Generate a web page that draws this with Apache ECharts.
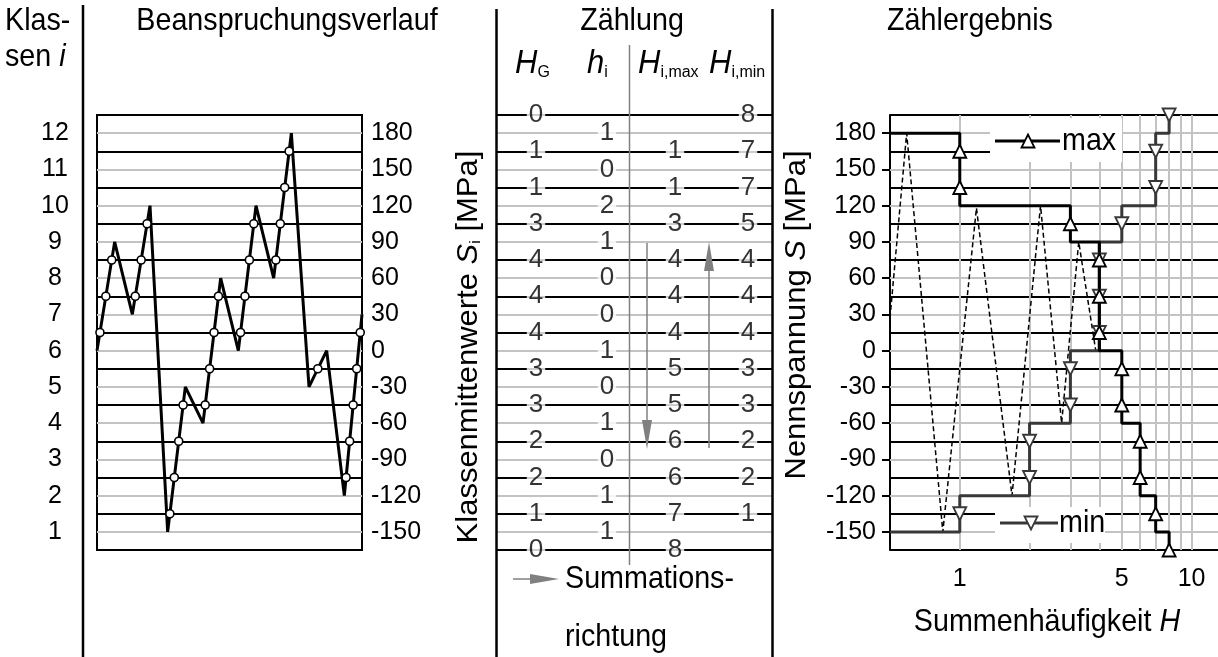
<!DOCTYPE html>
<html><head><meta charset="utf-8">
<script src="https://cdn.jsdelivr.net/npm/echarts@6/dist/echarts.min.js"></script>
<style>html,body{margin:0;padding:0;background:#fff}#c{width:1218px;height:657px}</style>
</head><body><div id="c"></div>
<script>
// ---------------- data ----------------
const classes = [1, 2, 3, 4, 5, 6, 7, 8, 9, 10, 11, 12];
const classMid = [-150, -120, -90, -60, -30, 0, 30, 60, 90, 120, 150, 180];
const boundaries = [-165, -135, -105, -75, -45, -15, 15, 45, 75, 105, 135, 165, 195];
// load history turning points (Beanspruchungsverlauf)
const loadSeq = [0, 90, 30, 120, -150, -30, -60, 60, 0, 120, 60, 180, -30, 0, -120, 30];
// table (top to bottom)
const tblBoundaries = [195, 165, 135, 105, 75, 45, 15, -15, -45, -75, -105, -135, -165];
const tblClassMid = [180, 150, 120, 90, 60, 30, 0, -30, -60, -90, -120, -150];
const H_G = [0, 1, 1, 3, 4, 4, 4, 3, 3, 2, 2, 1, 0];
const h_i = [1, 0, 2, 1, 0, 0, 1, 0, 1, 0, 1, 1];
const H_max = [null, 1, 1, 3, 4, 4, 4, 5, 5, 6, 6, 7, 8];
const H_min = [8, 7, 7, 5, 4, 4, 4, 3, 3, 2, 2, 1, null];
// reconstructed sequence (dashed) in Zählergebnis
const dashH = [0.5, 0.59, 0.845, 1.18, 1.68, 2.23, 2.75, 3.26, 3.86];
const dashS = [27, 180, -150, 118, -120, 120, -60, 90, 0];
const xTicksH = [1, 2, 3, 4, 5, 6, 7, 8, 9, 10];
const xLabelsH = [1, 5, 10];

// ---------------- layout / style ----------------
const FONT = '"Liberation Sans", Arial, sans-serif';
const BLACK = '#000', GRAY = '#c3c3c3', MINC = '#383838', MIDG = '#808080';
const Y_MIN = -165, Y_MAX = 195;
const FS = 28.7, SY = 1.08, TICKFS = 25;
const colX = { HG: 39, hi: 110, Hmax: 178, Hmin: 251 }; // within middle panel (0..275)

// derived: upward class-boundary crossings of load history
const crossPts = [];
for (let i = 0; i < loadSeq.length - 1; i++) {
  const a = loadSeq[i], b = loadSeq[i + 1];
  if (b > a) boundaries.forEach(lv => { if (lv > a && lv < b) crossPts.push([i + (lv - a) / (b - a), lv]); });
}
// derived: step curves for counting result
function stepPts(Hs, bnds, mids, leftH) {
  const pts = [];
  if (Hs[0] != null) pts.push([Hs[0], bnds[0]]);
  for (let k = 0; k < mids.length; k++) {
    const hu = Hs[k] == null ? leftH : Hs[k];
    const hl = Hs[k + 1] == null ? leftH : Hs[k + 1];
    pts.push([hu, mids[k]], [hl, mids[k]]);
  }
  const n = Hs.length - 1;
  if (Hs[n] != null) pts.push([Hs[n], bnds[n]]);
  return pts;
}
const X2_MIN = 0.5;
const maxLine = stepPts(H_max, tblBoundaries, tblClassMid, X2_MIN);
const minLine = stepPts(H_min, tblBoundaries, tblClassMid, X2_MIN);
const maxMarks = []; H_max.forEach((h, k) => { if (h != null) maxMarks.push([h, tblBoundaries[k]]); });
const minMarks = []; H_min.forEach((h, k) => { if (h != null) minMarks.push([h, tblBoundaries[k]]); });

const tableCells = [];
tblBoundaries.forEach((b, k) => {
  tableCells.push([colX.HG, b, H_G[k]]);
  if (H_max[k] != null) tableCells.push([colX.Hmax, b, H_max[k]]);
  if (H_min[k] != null) tableCells.push([colX.Hmin, b, H_min[k]]);
});
tblClassMid.forEach((m, k) => tableCells.push([colX.hi, m, h_i[k]]));

function hLines() {
  return classMid.map(v => ({ yAxis: v, lineStyle: { color: GRAY, width: 2, type: 'solid' } }))
    .concat(boundaries.map(v => ({ yAxis: v, lineStyle: { color: BLACK, width: 2, type: 'solid' } })));
}
const mlBase = { silent: true, z: 1, symbol: ['none', 'none'], label: { show: false }, animation: false };

const chart = echarts.init(document.getElementById('c'));
// text helper: anchored at (x,y), vertically stretched like the reference
function T(text, x, y, align, extra) {
  const o = { type: 'text', z: 100, silent: true, x: x, y: y, scaleY: SY,
    style: { text: text, x: 0, y: 0, fontFamily: FONT, fontSize: FS, fill: '#000',
      align: align, textAlign: align, verticalAlign: 'middle', textVerticalAlign: 'middle' } };
  if (extra && extra.rich) o.style.rich = extra.rich;
  if (extra && extra.fontSize) o.style.fontSize = extra.fontSize;
  if (extra && extra.rotate) { o.rotation = extra.rotate; o.scaleY = 1; o.scaleX = SY; }
  return o;
}
const it = (fs) => ({ fontStyle: 'italic', fontSize: fs, fontFamily: FONT, verticalAlign: 'bottom' });
const sub = (fs) => ({ fontSize: fs, fontFamily: FONT, verticalAlign: 'bottom' });

const option = {
  animation: false,
  backgroundColor: '#fff',
  textStyle: { fontFamily: FONT },
  grid: [
    { left: 97, top: 115, width: 265, height: 435, show: true, borderColor: BLACK, borderWidth: 2, backgroundColor: 'transparent' },
    { left: 497, top: 115, width: 275, height: 435 },
    { left: 890, top: 115, width: 328, height: 435 }
  ],
  xAxis: [
    { gridIndex: 0, type: 'value', min: 0, max: loadSeq.length - 1, show: false },
    { gridIndex: 1, type: 'value', min: 0, max: 275, show: false },
    { gridIndex: 2, type: 'log', logBase: 10, min: X2_MIN, max: 13,
      axisLine: { show: true, lineStyle: { color: BLACK, width: 2 } },
      axisTick: { show: true, customValues: xTicksH, length: 8, lineStyle: { color: BLACK, width: 2 } },
      axisLabel: { show: true, customValues: xLabelsH, margin: 17, fontSize: TICKFS, color: '#000', fontFamily: FONT },
      splitLine: { show: false }, minorSplitLine: { show: false } }
  ],
  yAxis: [
    { gridIndex: 0, type: 'value', min: Y_MIN, max: Y_MAX, position: 'right',
      axisLine: { show: false },
      axisTick: { show: true, customValues: classMid, length: 8, lineStyle: { color: BLACK, width: 2 } },
      axisLabel: { show: true, customValues: classMid, margin: 9, fontSize: TICKFS, color: '#000', fontFamily: FONT },
      splitLine: { show: false } },
    { gridIndex: 0, type: 'value', min: Y_MIN, max: Y_MAX, position: 'left',
      axisLine: { show: false }, axisTick: { show: false },
      axisLabel: { show: true, customValues: classMid, margin: 42, align: 'center', fontSize: TICKFS, color: '#000', fontFamily: FONT,
        formatter: v => String(classes[classMid.indexOf(v)]) },
      splitLine: { show: false } },
    { gridIndex: 1, type: 'value', min: Y_MIN, max: Y_MAX, show: false },
    { gridIndex: 2, type: 'value', min: Y_MIN, max: Y_MAX, position: 'left',
      axisLine: { show: true, lineStyle: { color: BLACK, width: 2 } },
      axisTick: { show: true, customValues: classMid, length: 8, lineStyle: { color: BLACK, width: 2 } },
      axisLabel: { show: true, customValues: classMid, margin: 14, fontSize: TICKFS, color: '#000', fontFamily: FONT },
      splitLine: { show: false } }
  ],
  series: [
    // grid 0 class lines
    { type: 'line', xAxisIndex: 0, yAxisIndex: 0, data: [[0, 0]], symbol: 'none', lineStyle: { opacity: 0 }, z: 1,
      markLine: Object.assign({ data: hLines() }, mlBase) },
    { name: 'Beanspruchungsverlauf', type: 'line', xAxisIndex: 0, yAxisIndex: 0, data: loadSeq.map((v, i) => [i, v]),
      symbol: 'none', lineStyle: { color: BLACK, width: 3 }, z: 22 },
    { type: 'scatter', xAxisIndex: 0, yAxisIndex: 0, data: crossPts, symbol: 'circle', symbolSize: 8,
      itemStyle: { color: '#fff', opacity: 1, borderColor: BLACK, borderWidth: 1.6 }, z: 23 },
    // grid 1 table
    { type: 'line', xAxisIndex: 1, yAxisIndex: 2, data: [[0, 0]], symbol: 'none', lineStyle: { opacity: 0 }, z: 1,
      markLine: Object.assign({ data: hLines() }, mlBase) },
    { type: 'scatter', xAxisIndex: 1, yAxisIndex: 2, data: tableCells, symbolSize: 0, z: 22,
      label: { show: true, position: 'inside', formatter: p => String(p.value[2]), color: '#000', fontSize: 26,
        fontFamily: FONT, backgroundColor: '#fff', padding: [0, 2] } },
    // grid 2 counting result
    { type: 'line', xAxisIndex: 2, yAxisIndex: 3, data: [[1, 0]], symbol: 'none', lineStyle: { opacity: 0 }, z: 1,
      markLine: Object.assign({ data: hLines().concat(xTicksH.map(h => ({ xAxis: h, lineStyle: { color: GRAY, width: 2, type: 'solid' } }))) }, mlBase) },
    { type: 'line', xAxisIndex: 2, yAxisIndex: 3, data: dashH.map((h, i) => [h, dashS[i]]), symbol: 'none',
      lineStyle: { color: BLACK, width: 1.5, type: [5, 3] }, z: 21 },
    { name: 'min', type: 'line', xAxisIndex: 2, yAxisIndex: 3, data: minLine, symbol: 'none', zlevel: 1,
      lineStyle: { color: MINC, width: 3, opacity: 1 }, z: 22 },
    { name: 'max', type: 'line', xAxisIndex: 2, yAxisIndex: 3, data: maxLine, symbol: 'none', zlevel: 1,
      lineStyle: { color: BLACK, width: 3 }, z: 23 },
    { type: 'scatter', xAxisIndex: 2, yAxisIndex: 3, data: minMarks, symbol: 'triangle', symbolSize: 13, symbolRotate: 180, zlevel: 1,
      itemStyle: { color: '#fff', opacity: 1, borderColor: MINC, borderWidth: 1.8 }, z: 24 },
    { type: 'scatter', xAxisIndex: 2, yAxisIndex: 3, data: maxMarks, symbol: 'triangle', symbolSize: 13, zlevel: 1,
      itemStyle: { color: '#fff', opacity: 1, borderColor: BLACK, borderWidth: 1.8 }, z: 25 }
  ],
  graphic: [
    // panel dividers
    { type: 'line', z: 100, silent: true, shape: { x1: 83, y1: 5, x2: 83, y2: 657 }, style: { stroke: BLACK, lineWidth: 2.5 } },
    { type: 'line', z: 100, silent: true, shape: { x1: 496.5, y1: 9, x2: 496.5, y2: 657 }, style: { stroke: BLACK, lineWidth: 2.5 } },
    { type: 'line', z: 100, silent: true, shape: { x1: 772.5, y1: 9, x2: 772.5, y2: 657 }, style: { stroke: BLACK, lineWidth: 2.5 } },
    // middle gray separator
    { type: 'line', z: 5, silent: true, shape: { x1: 629.5, y1: 45, x2: 629.5, y2: 565 }, style: { stroke: MIDG, lineWidth: 1.5 } },
    // summation arrows
    { type: 'line', z: 100, silent: true, shape: { x1: 647, y1: 243, x2: 647, y2: 425 }, style: { stroke: MIDG, lineWidth: 1.5 } },
    { type: 'polygon', z: 100, silent: true, shape: { points: [[642, 420], [652, 420], [647, 449]] }, style: { fill: MIDG } },
    { type: 'line', z: 100, silent: true, shape: { x1: 709, y1: 448, x2: 709, y2: 266 }, style: { stroke: MIDG, lineWidth: 1.5 } },
    { type: 'polygon', z: 100, silent: true, shape: { points: [[704, 271], [714, 271], [709, 242]] }, style: { fill: MIDG } },
    { type: 'line', z: 100, silent: true, shape: { x1: 513, y1: 579, x2: 535, y2: 579 }, style: { stroke: MIDG, lineWidth: 1.5 } },
    { type: 'polygon', z: 100, silent: true, shape: { points: [[530, 574], [530, 584], [559, 579]] }, style: { fill: MIDG } },
    // titles
    T('Klas-', 5, 21, 'left'),
    T('sen {i|i}', 5, 57, 'left', { rich: { i: { fontStyle: 'italic', fontSize: FS, fontFamily: FONT } } }),
    T('Beanspruchungsverlauf', 287, 21, 'center'),
    T('Zählung', 632, 21, 'center'),
    T('Zählergebnis', 970, 21, 'center'),
    // table header
    T('{H|H}{s|G}', 515, 64, 'left', { rich: { H: it(31), s: sub(16) } }),
    T('{H|h}{s|i}', 587, 64, 'left', { rich: { H: it(31), s: sub(16) } }),
    T('{H|H}{s|i,max}', 638, 64, 'left', { rich: { H: it(31), s: sub(16) } }),
    T('{H|H}{s|i,min}', 709, 64, 'left', { rich: { H: it(31), s: sub(16) } }),
    // axis titles
    T('Klassenmittenwerte {S|S}{s|i} [MPa]', 469, 347, 'center', { rotate: Math.PI / 2, rich: { S: it(FS), s: sub(15) } }),
    T('Nennspannung {S|S} [MPa]', 797, 315, 'center', { rotate: Math.PI / 2, rich: { S: { fontStyle: 'italic', fontSize: FS, fontFamily: FONT } } }),
    T('Summenhäufigkeit {H|H}', 1047, 622, 'center', { rich: { H: { fontStyle: 'italic', fontSize: FS, fontFamily: FONT } } }),
    T('Summations-', 565, 579, 'left'),
    T('richtung', 565, 637, 'left'),
    // legend max
    { type: 'rect', z: 90, silent: true, shape: { x: 990, y: 118, width: 132, height: 44 }, style: { fill: '#fff' } },
    { type: 'line', z: 100, silent: true, shape: { x1: 995, y1: 141, x2: 1060, y2: 141 }, style: { stroke: BLACK, lineWidth: 3 } },
    { type: 'polygon', z: 101, silent: true, shape: { points: [[1021.5, 147.5], [1034.5, 147.5], [1028, 134.5]] }, style: { fill: '#fff', stroke: BLACK, lineWidth: 1.8 } },
    T('max', 1062, 141, 'left'),
    // legend min
    { type: 'rect', z: 90, silent: true, shape: { x: 995, y: 507, width: 110, height: 36 }, style: { fill: '#fff' } },
    { type: 'line', z: 100, silent: true, shape: { x1: 1000, y1: 523, x2: 1058, y2: 523 }, style: { stroke: MINC, lineWidth: 3 } },
    { type: 'polygon', z: 101, silent: true, shape: { points: [[1024.5, 516.5], [1037.5, 516.5], [1031, 529.5]] }, style: { fill: '#fff', stroke: MINC, lineWidth: 1.8 } },
    T('min', 1059, 523, 'left')
  ]
};
chart.setOption(option);
</script>
</body></html>
